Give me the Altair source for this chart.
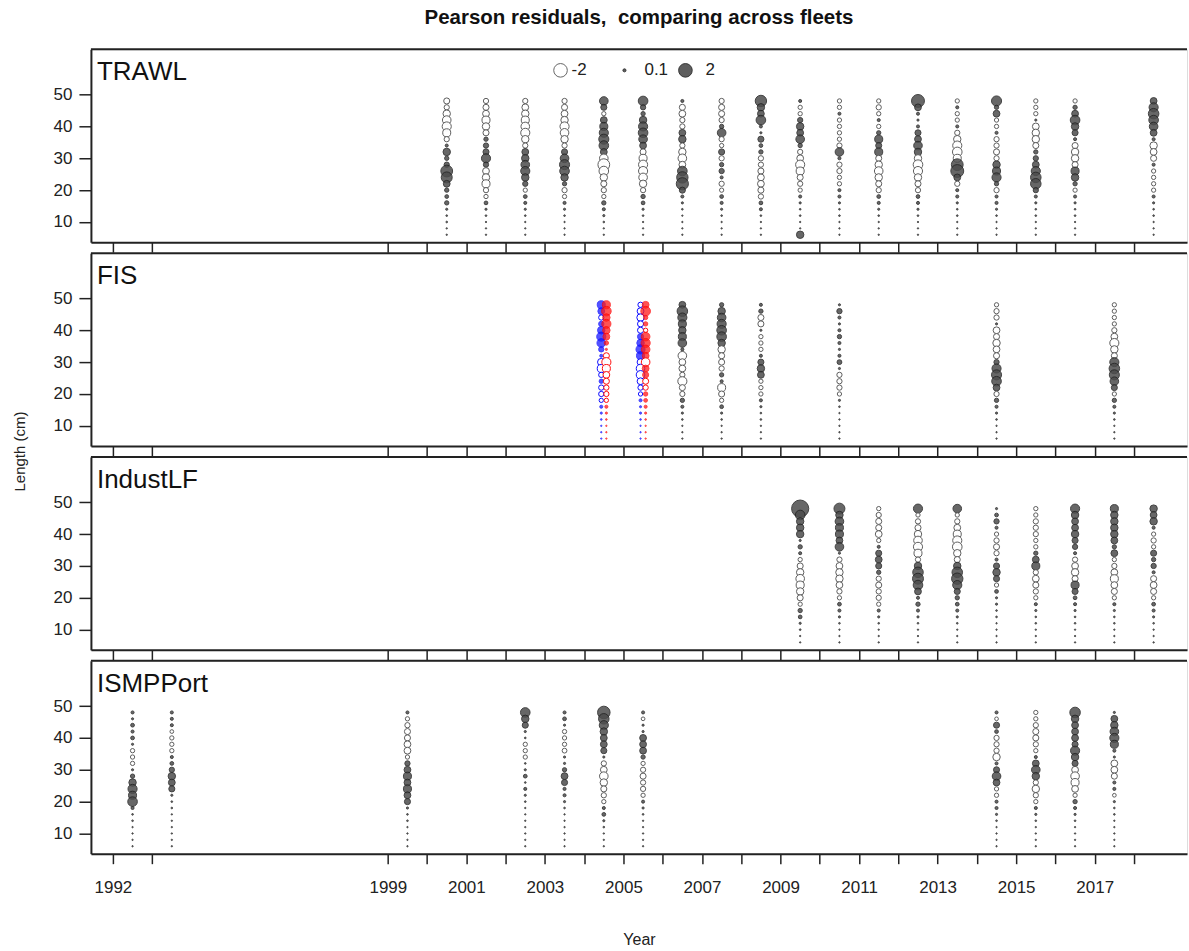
import altair as alt
import pandas as pd

# ---------------- data (Pearson residuals, length bins 48 -> 6 cm) ----------------
lengths = [48, 46, 44, 42, 40, 38, 36, 34, 32, 30, 28, 26, 24, 22, 20, 18, 16, 14, 12, 10, 8, 6]

trawl = {
    2000: [-0.4, -0.3, -0.6, -0.8, -0.9, -0.7, -0.3, 0.1, 0.6, 0.2, 0.3, 1.5, 1.3, 0.5, 0.2, 0.15, 0.2, 0.05, 0.03, 0.03, 0.02, 0.02],
    2001: [-0.3, -0.4, -0.5, -0.7, -0.6, -0.4, 0.2, 0.3, 0.4, 0.9, 0.3, -0.5, -0.6, -0.7, -0.3, -0.2, 0.15, 0.05, 0.03, 0.02, 0.02, 0.02],
    2002: [-0.3, -0.5, -0.6, -0.7, -0.8, -0.9, -0.6, -0.3, 0.5, 0.6, 0.8, 0.9, 0.6, 0.3, -0.2, 0.15, 0.1, 0.05, 0.03, 0.02, 0.02, 0.02],
    2003: [-0.3, -0.4, -0.5, -0.6, -0.9, -0.8, -0.6, -0.3, 0.4, 0.8, 1.1, 1.0, 0.6, 0.2, -0.3, -0.2, 0.1, 0.05, 0.03, 0.02, 0.02, 0.02],
    2004: [0.8, 0.4, -0.2, 0.5, 0.7, 0.9, 1.1, 1.0, 0.5, -0.8, -1.5, -1.0, -0.6, -0.4, -0.3, -0.2, 0.2, 0.1, 0.05, 0.03, 0.02, 0.02],
    2005: [1.0, 0.3, 0.2, 0.6, 0.9, 1.0, 0.8, 0.5, -0.4, -0.7, -0.9, -0.9, -0.8, -0.6, -0.3, 0.2, 0.15, 0.05, 0.03, 0.02, 0.02, 0.02],
    2006: [0.1, -0.4, -0.5, -0.3, -0.3, 0.5, 0.6, -0.3, -0.6, -0.8, -0.5, 1.0, 1.4, 1.6, 0.4, 0.1, 0.05, 0.03, 0.02, 0.02, 0.02, 0.02],
    2007: [-0.3, -0.4, -0.4, -0.3, 0.2, 0.8, -0.3, -0.2, 0.4, -0.3, 0.2, 0.3, 0.1, -0.3, -0.2, 0.15, 0.1, 0.05, 0.03, 0.02, 0.02, 0.02],
    2008: [1.4, 0.6, 0.5, 1.0, 0.1, 0.05, 0.4, 0.15, 0.2, -0.3, -0.3, -0.4, -0.5, -0.5, -0.4, -0.3, 0.15, 0.1, 0.03, 0.02, 0.02, 0.02],
    2009: [0.1, -0.2, -0.2, 0.3, 0.6, 0.5, 0.8, 0.2, -0.3, -0.5, -0.9, -0.7, -0.4, -0.3, -0.2, 0.1, 0.05, 0.03, 0.03, 0.02, 0.02, 0.6],
    2010: [-0.2, -0.2, 0.1, -0.2, -0.2, -0.2, -0.2, -0.3, 0.8, 0.1, -0.3, -0.3, -0.2, -0.2, 0.1, 0.1, 0.05, 0.03, 0.03, 0.02, 0.02, 0.02],
    2011: [-0.2, -0.3, -0.2, 0.1, -0.2, 0.2, 0.7, 0.4, 0.7, -0.4, -0.6, -0.8, -0.6, -0.4, -0.3, 0.15, 0.1, 0.05, 0.03, 0.02, 0.02, 0.02],
    2012: [1.8, 0.5, 0.1, 0.05, 0.1, 0.4, 0.5, 0.8, 0.6, -0.6, -1.0, -0.9, -0.6, -0.4, -0.3, 0.15, 0.1, 0.05, 0.03, 0.02, 0.02, 0.02],
    2013: [-0.2, 0.1, -0.2, -0.2, 0.1, -0.3, -0.6, -0.9, -1.0, -0.7, 1.5, 1.8, 0.5, -0.3, 0.1, 0.1, 0.05, 0.03, 0.03, 0.02, 0.02, 0.02],
    2014: [1.1, 0.2, 0.5, -0.2, -0.2, 0.1, -0.3, -0.3, -0.4, -0.3, 0.6, 0.7, 0.9, 0.2, -0.3, 0.1, 0.1, 0.05, 0.03, 0.02, 0.02, 0.02],
    2015: [-0.2, -0.2, -0.2, 0.05, -0.5, -0.6, -0.6, -0.4, 0.2, 0.3, 0.5, 0.9, 1.2, 1.2, 0.3, 0.1, 0.05, 0.03, 0.03, 0.02, 0.02, 0.02],
    2016: [-0.2, 0.2, 0.5, 1.0, 0.6, 0.4, 0.1, -0.4, -0.6, -0.6, -0.4, 0.7, 0.6, 0.2, -0.2, 0.1, 0.05, 0.03, 0.03, 0.02, 0.02, 0.02],
    2018: [0.5, 0.9, 1.2, 1.0, 0.8, 0.5, 0.1, -0.6, -0.5, -0.4, 0.1, -0.2, -0.2, -0.2, -0.2, 0.1, 0.05, 0.03, 0.03, 0.02, 0.02, 0.02],
}

fis = {
    2006: [0.5, 1.2, 0.9, 0.7, 0.6, 0.7, 0.8, 0.1, -0.8, -0.5, -0.5, -0.3, -0.9, -0.4, -0.3, 0.2, 0.1, 0.05, 0.03, 0.02, 0.02, 0.02],
    2007: [0.2, 0.6, 0.8, 0.9, 1.0, 1.0, 0.6, -0.6, -0.4, -0.4, -0.3, 0.2, 0.1, -0.7, -0.4, -0.2, 0.15, 0.05, 0.03, 0.02, 0.02, 0.02],
    2008: [0.1, 0.2, -0.4, -0.4, 0.05, -0.2, -0.2, -0.2, 0.1, 0.4, 0.6, 0.5, -0.2, -0.2, -0.2, 0.1, 0.05, 0.03, 0.03, 0.02, 0.02, 0.02],
    2010: [0.05, 0.3, 0.1, 0.05, 0.1, 0.2, 0.1, 0.05, 0.1, 0.25, 0.05, -0.3, -0.3, -0.3, -0.2, 0.05, 0.03, 0.02, 0.02, 0.02, 0.02, 0.02],
    2014: [-0.2, -0.3, -0.3, 0.05, -0.5, -0.4, -0.6, -0.5, -0.4, 0.3, 0.9, 1.1, 1.0, 0.5, -0.3, 0.2, 0.1, 0.05, 0.03, 0.02, 0.02, 0.02],
    2017: [-0.2, -0.2, -0.2, -0.2, -0.3, -0.5, -0.9, -0.6, -0.4, 0.9, 1.2, 1.1, 0.8, 0.4, -0.2, 0.2, 0.1, 0.05, 0.03, 0.02, 0.02, 0.02],
}
fis_blue = {
    2004: [0.7, 0.5, -0.3, 0.3, 0.6, 0.9, 0.8, 0.3, 0.1, -0.6, -0.7, -0.3, 0.2, -0.3, -0.3, -0.2, 0.1, 0.05, 0.03, 0.02, 0.02, 0.02],
    2005: [-0.3, -0.5, -0.6, -0.4, -0.4, 0.4, 0.6, 0.9, 0.7, -0.5, -0.8, -0.8, -0.5, -0.3, -0.2, 0.1, 0.05, 0.05, 0.03, 0.02, 0.02, 0.02],
}
fis_red = {
    2004: [0.7, 1.0, 0.6, 0.9, 0.6, 0.5, 0.2, 0.05, -0.4, -0.9, -0.7, -0.5, -0.4, -0.3, -0.3, -0.2, 0.1, 0.05, 0.03, 0.02, 0.02, 0.02],
    2005: [0.5, 1.0, 0.2, 0.2, -0.2, 0.8, 0.9, 0.8, 0.5, -0.8, 0.5, 0.4, -0.4, -0.3, 0.2, 0.15, 0.1, 0.05, 0.03, 0.02, 0.02, 0.02],
}

indust = {
    2009: [3.2, 1.0, 0.6, 0.6, 0.6, 0.05, 0.2, 0.1, -0.2, -0.4, -0.6, -0.8, -0.7, -0.6, -0.4, -0.2, 0.2, 0.15, 0.05, 0.03, 0.02, 0.02],
    2010: [1.3, 0.6, 0.8, 0.7, 0.7, 0.5, 0.8, 0.05, -0.3, -0.5, -0.6, -0.6, -0.5, -0.3, -0.2, 0.15, 0.1, 0.05, 0.03, 0.02, 0.02, 0.02],
    2011: [-0.2, -0.3, -0.4, -0.4, -0.5, -0.2, 0.1, 0.4, 0.5, 0.4, 0.2, -0.3, -0.4, -0.3, -0.3, -0.2, 0.1, 0.05, 0.03, 0.02, 0.02, 0.02],
    2012: [0.9, -0.2, -0.3, -0.4, -0.6, -0.8, -0.9, -0.7, -0.3, 0.6, 1.2, 1.3, 1.0, 0.5, 0.1, 0.2, 0.1, 0.05, 0.03, 0.02, 0.02, 0.02],
    2013: [0.8, -0.2, -0.3, -0.5, -0.7, -0.9, -1.0, -0.6, -0.4, 0.6, 1.2, 1.4, 0.9, 0.4, 0.2, 0.15, 0.1, 0.05, 0.03, 0.02, 0.02, 0.02],
    2014: [0.05, 0.15, 0.3, 0.1, -0.2, -0.3, -0.4, -0.3, 0.1, 0.4, 0.6, 0.4, -0.2, 0.15, 0.05, 0.05, 0.03, 0.03, 0.02, 0.02, 0.02, 0.02],
    2015: [-0.2, -0.2, -0.3, -0.3, -0.3, -0.2, -0.2, 0.2, 0.5, 0.7, -0.3, -0.5, -0.4, -0.3, -0.2, 0.1, 0.05, 0.03, 0.03, 0.02, 0.02, 0.02],
    2016: [0.9, 0.6, 0.5, 0.5, 0.6, 0.4, 0.3, 0.1, -0.3, -0.5, -0.6, -0.4, 0.7, 0.4, 0.15, 0.1, 0.05, 0.03, 0.03, 0.02, 0.02, 0.02],
    2017: [0.7, 0.6, 0.6, 0.6, 0.6, 0.5, 0.2, 0.5, -0.2, -0.3, -0.5, -0.7, -0.5, -0.4, -0.2, 0.1, 0.05, 0.03, 0.03, 0.02, 0.02, 0.02],
    2018: [0.6, 0.5, 0.6, 0.1, -0.2, -0.3, -0.2, 0.4, 0.2, 0.3, 0.1, -0.4, -0.5, -0.4, -0.2, 0.15, 0.1, 0.05, 0.03, 0.02, 0.02, 0.02],
}

ismp = {
    1992: [0.1, 0.05, 0.15, 0.1, 0.15, 0.05, -0.2, -0.2, -0.2, 0.05, 0.2, 0.6, 0.9, 0.7, 1.0, 0.1, 0.03, 0.03, 0.02, 0.02, 0.02, 0.02],
    1993: [0.1, 0.1, 0.1, -0.15, -0.2, -0.2, -0.2, 0.1, 0.15, 0.3, 0.6, 0.5, 0.4, 0.05, 0.03, 0.03, 0.02, 0.02, 0.02, 0.02, 0.02, 0.02],
    1999: [0.1, -0.2, -0.3, -0.4, -0.4, -0.5, -0.5, -0.2, 0.3, 0.5, 0.7, 0.5, 0.7, 0.5, 0.4, 0.05, 0.03, 0.03, 0.02, 0.02, 0.02, 0.02],
    2002: [1.0, 0.6, 0.4, 0.05, 0.03, -0.2, -0.2, -0.2, 0.03, 0.05, 0.15, 0.03, 0.1, 0.05, 0.03, 0.02, 0.02, 0.02, 0.02, 0.02, 0.02, 0.02],
    2003: [0.1, 0.15, 0.05, -0.2, -0.2, -0.2, -0.25, 0.05, 0.05, 0.2, 0.5, 0.4, 0.1, 0.1, 0.05, 0.03, 0.02, 0.02, 0.02, 0.02, 0.02, 0.02],
    2004: [1.7, 1.2, 0.9, 0.6, 0.5, 0.5, 0.4, 0.05, -0.3, -0.5, -0.8, -0.6, -0.4, -0.3, -0.2, 0.1, 0.15, 0.05, 0.03, 0.02, 0.02, 0.02],
    2005: [0.1, -0.15, 0.05, 0.05, 0.5, 0.5, 0.5, 0.2, -0.2, -0.3, -0.4, -0.3, -0.3, -0.2, 0.1, 0.05, 0.03, 0.02, 0.02, 0.02, 0.02, 0.02],
    2014: [0.1, -0.15, 0.4, 0.15, -0.3, -0.3, -0.3, -0.6, 0.1, 0.4, 0.8, 0.5, -0.2, -0.2, 0.1, 0.1, 0.05, 0.03, 0.02, 0.02, 0.02, 0.02],
    2015: [-0.2, -0.2, -0.3, -0.4, -0.4, -0.3, -0.2, 0.1, 0.5, 0.8, 0.6, -0.3, -0.6, -0.3, -0.2, 0.1, 0.05, 0.03, 0.02, 0.02, 0.02, 0.02],
    2016: [1.2, 0.6, 0.5, 0.5, 0.5, 0.4, 0.9, 0.6, 0.4, -0.5, -0.8, -0.7, -0.5, -0.2, 0.2, 0.1, 0.05, 0.03, 0.02, 0.02, 0.02, 0.02],
    2017: [0.05, 0.5, 0.6, 0.8, 0.9, 0.7, 0.1, 0.05, -0.5, -0.5, -0.4, 0.1, 0.1, -0.15, 0.05, 0.03, 0.03, 0.02, 0.02, 0.02, 0.02, 0.02],
}

fleets = ["TRAWL", "FIS", "IndustLF", "ISMPPort"]
tick_years = [1992, 1993] + list(range(1999, 2019))
legend_values = [-2, 0.1, 2]
legend_labels = ["-2", "0.1", "2"]

# ---------------- build table ----------------
series_style = {
    # series: (x offset in years, fill for positive, stroke, opacity)
    "gray": (0.0, "#4d4d4d", "#222222", 0.85),
    "blue": (-0.065, "#1a1aff", "#0000ff", 0.75),
    "red": (0.065, "#ff1a1a", "#ff0000", 0.75),
}
rows = []
for fleet, series, table in [
    ("TRAWL", "gray", trawl),
    ("FIS", "blue", fis_blue),
    ("FIS", "red", fis_red),
    ("FIS", "gray", fis),
    ("IndustLF", "gray", indust),
    ("ISMPPort", "gray", ismp),
]:
    off, pos_fill, stroke, op = series_style[series]
    for yr, vals in table.items():
        for L, z in zip(lengths, vals):
            rows.append({
                "fleet": fleet, "series": series, "year": yr + 0.5 + off,
                "length": L, "z": z, "absz": abs(z),
                "fill": pos_fill if z > 0 else "white",
                "stroke": stroke if z > 0 else ("#555555" if series == "gray" else stroke),
                "op": op if z > 0 else 0.95,
            })
df = pd.DataFrame(rows)

W, H = 1097, 193
FONT = "Liberation Sans"
xscale = alt.Scale(domain=[1991.44, 2019.35], nice=False, zero=False)
yscale = alt.Scale(domain=[3.66, 64.2], nice=False, zero=False)
sscale = alt.Scale(domain=[0, 2], range=[0, 185], zero=True)
label_expr = "(datum.value == 1992 || (datum.value >= 1999 && datum.value % 2 == 1)) ? datum.label : ''"


def panel(i, fleet):
    last = i == len(fleets) - 1
    d = df[df.fleet == fleet]
    xaxis = alt.Axis(values=tick_years, format="d", labelExpr=label_expr, labels=last,
                     labelOverlap=False, title="Year" if last else None,
                     tickSize=10, tickWidth=1.5, tickColor="#222", domainColor="#222",
                     domainWidth=2, grid=False, labelFontSize=17, titleFontSize=16,
                     titleFontWeight="normal", labelColor="#222", titleColor="#222",
                     labelPadding=16, titlePadding=36, labelFont=FONT, titleFont=FONT)
    if i == 1:
        yaxis = alt.Axis(values=[10, 20, 30, 40, 50], tickSize=12, tickWidth=1.5, tickColor="#222",
                         domainColor="#222", domainWidth=2, grid=False, labelFontSize=17,
                         labelColor="#222", labelPadding=7, labelFont=FONT,
                         title="Length (cm)", titleFontSize=15, titleFontWeight="normal",
                         titleColor="#222", titleFont=FONT, titleX=-71, titleY=H + 5,
                         titleAlign="center", titleBaseline="middle", titleAngle=270)
    else:
        yaxis = alt.Axis(values=[10, 20, 30, 40, 50], tickSize=12, tickWidth=1.5, tickColor="#222",
                         domainColor="#222", domainWidth=2, grid=False, labelFontSize=17,
                         labelColor="#222", labelPadding=7, labelFont=FONT, title=None)
    pts = alt.Chart(d).mark_circle(strokeWidth=1).encode(
        x=alt.X("year:Q", scale=xscale, axis=xaxis),
        y=alt.Y("length:Q", scale=yscale, axis=yaxis),
        size=alt.Size("absz:Q", scale=sscale, legend=None),
        fill=alt.Fill("fill:N", scale=None),
        stroke=alt.Stroke("stroke:N", scale=None),
        opacity=alt.Opacity("op:Q", scale=None),
    )
    top = alt.Chart(pd.DataFrame({"k": [0]})).mark_rule(color="#222", strokeWidth=2).encode(
        x=alt.value(0), x2=alt.value(W), y=alt.value(0))
    name = alt.Chart(pd.DataFrame({"name": [fleet]})).mark_text(
        align="left", baseline="middle", fontSize=26, font=FONT, color="#111").encode(
        x=alt.value(6), y=alt.value(23), text="name:N")
    layers = [pts, top, name]
    if i == 0:
        leg = pd.DataFrame({"z": legend_values, "label": legend_labels})
        leg["absz"] = leg["z"].abs()
        leg["fill"] = ["white" if v < 0 else "#4d4d4d" for v in legend_values]
        leg["stroke"] = ["#555555" if v < 0 else "#222222" for v in legend_values]
        cx = [470, 534, 595]
        tx = [481, 554, 615]
        for j in range(3):
            row = leg.iloc[[j]]
            layers.append(alt.Chart(row).mark_circle(strokeWidth=1, opacity=0.9).encode(
                x=alt.value(cx[j]), y=alt.value(21),
                size=alt.Size("absz:Q", scale=sscale, legend=None),
                fill=alt.Fill("fill:N", scale=None),
                stroke=alt.Stroke("stroke:N", scale=None)))
            layers.append(alt.Chart(row).mark_text(align="left", baseline="middle", fontSize=17,
                                                   font=FONT, color="#222").encode(
                x=alt.value(tx[j]), y=alt.value(21), text="label:N"))
    ch = alt.layer(*layers).properties(width=W, height=H)
    if i == 0:
        ch = ch.properties(title=alt.TitleParams(
            "Pearson residuals,\u00a0 comparing across fleets", fontSize=20.5, fontWeight="bold",
            font=FONT, color="#111", anchor="middle", frame="group", offset=20))
    return ch


chart = alt.vconcat(*[panel(i, f) for i, f in enumerate(fleets)], spacing=11, bounds="flush").properties(
    padding={"left": 12, "top": 7, "right": 0, "bottom": 5}
).configure_view(stroke=None).configure(font=FONT)

chart.save("out.html", embed_options={"renderer": "svg", "actions": False})
